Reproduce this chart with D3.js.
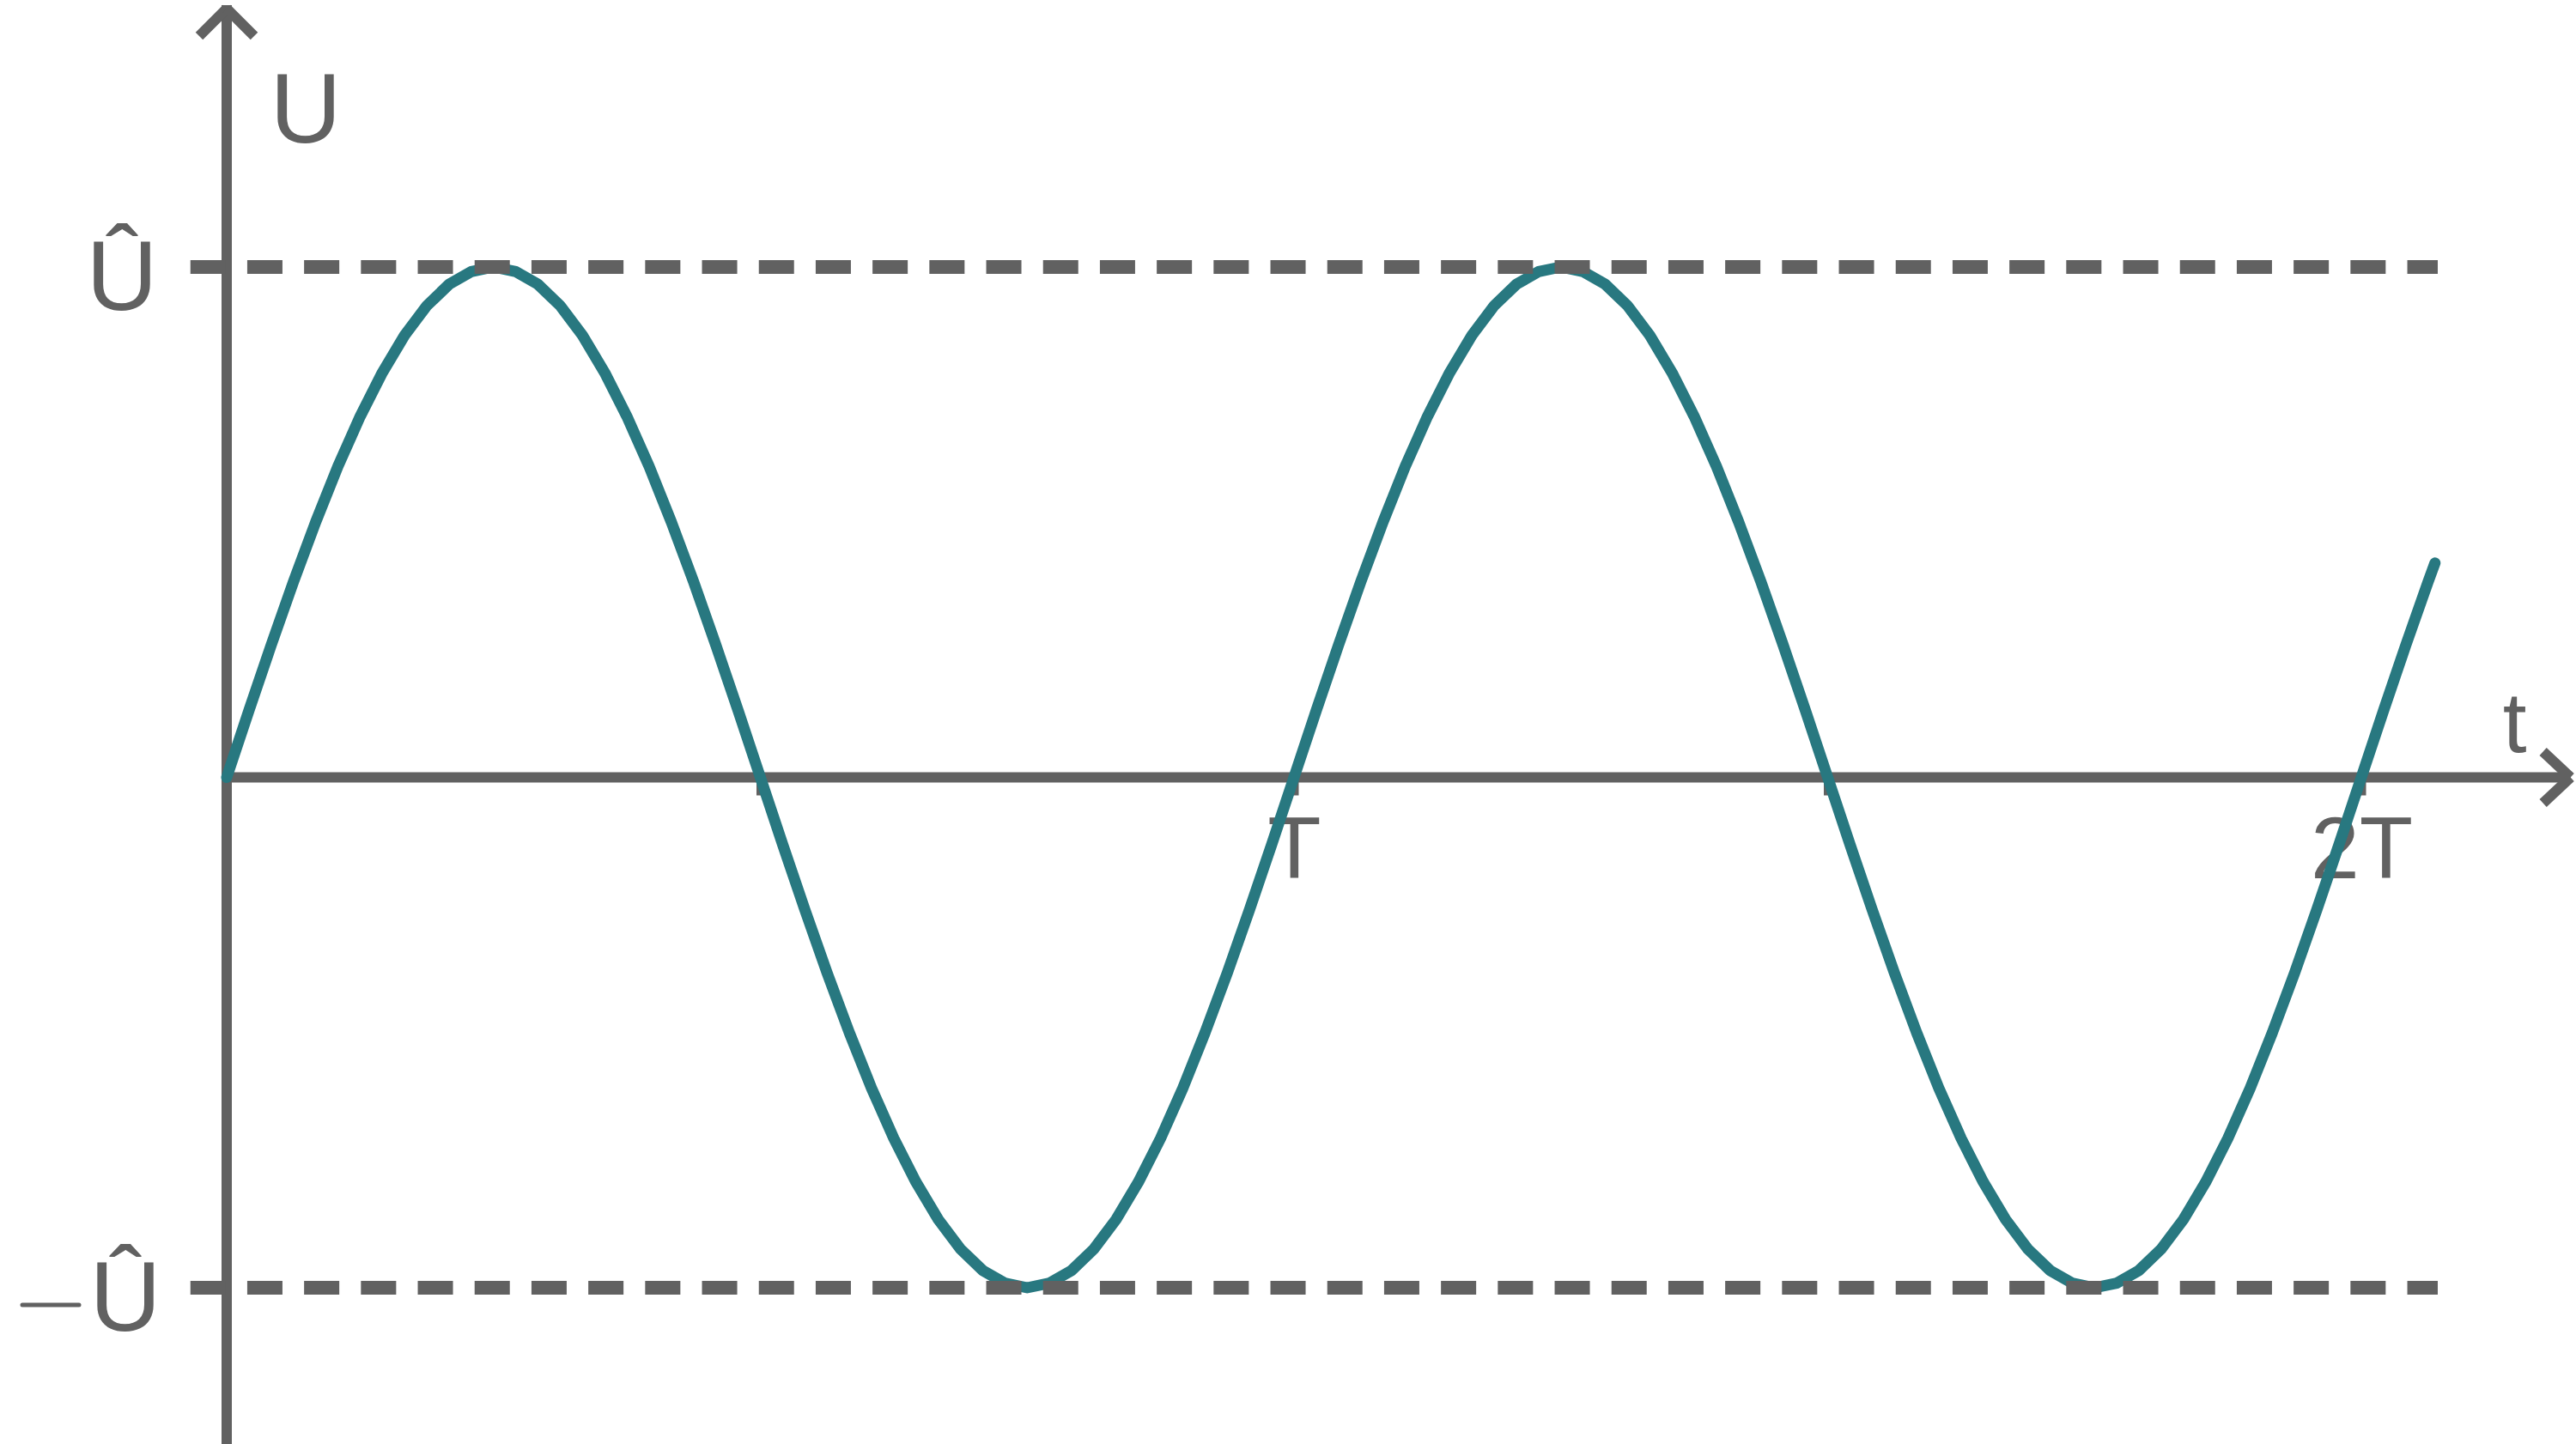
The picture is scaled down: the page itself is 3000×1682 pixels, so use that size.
<!DOCTYPE html>
<html>
<head>
<meta charset="utf-8">
<script src="https://cdn.jsdelivr.net/npm/d3@7"></script>
<style>
  body { margin: 0; background: #fff; }
  svg { display: block; }
  text { font-family: "Liberation Sans", Arial, sans-serif; fill: #616161; }
</style>
</head>
<body>
<svg id="chart"></svg>
<script>
// t in units of the period T, U in units of the peak value Û
const sampleStep = 1 / 48;
const uValues = [
  0, 0.131, 0.259, 0.383, 0.5, 0.609, 0.707, 0.793, 0.866, 0.924, 0.966, 0.991,
  1, 0.991, 0.966, 0.924, 0.866, 0.793, 0.707, 0.609, 0.5, 0.383, 0.259, 0.131,
  0, -0.131, -0.259, -0.383, -0.5, -0.609, -0.707, -0.793, -0.866, -0.924, -0.966, -0.991,
  -1, -0.991, -0.966, -0.924, -0.866, -0.793, -0.707, -0.609, -0.5, -0.383, -0.259, -0.131,
  0, 0.131, 0.259, 0.383, 0.5, 0.609, 0.707, 0.793, 0.866, 0.924, 0.966, 0.991,
  1, 0.991, 0.966, 0.924, 0.866, 0.793, 0.707, 0.609, 0.5, 0.383, 0.259, 0.131,
  0, -0.131, -0.259, -0.383, -0.5, -0.609, -0.707, -0.793, -0.866, -0.924, -0.966, -0.991,
  -1, -0.991, -0.966, -0.924, -0.866, -0.793, -0.707, -0.609, -0.5, -0.383, -0.259, -0.131,
  0, 0.131, 0.259, 0.383
];
const lastPoint = { t: 2.069, u: 0.42 };

const tickValues = [0.5, 1, 1.5, 2];
const tickLabels = ["", "T", "", "2T"];

const levelValues = [1, -1];
const levelLabels = ["Û", "Û"];

const W = 3000;
const H = 1682;
const GRAY = "#616161";
const TEAL = "#287880";
const FONT = '"Liberation Sans", Arial, sans-serif';

const svg = d3.select("#chart").attr("width", W).attr("height", H);

const x = d3.scaleLinear().domain([0, 1]).range([264, 1507]);
const y = d3.scaleLinear().domain([-1, 1]).range([1500, 311]);

const x0 = x(0);
const y0 = y(0);
const xEnd = x(2.196);
const yTop = y(1.513);

// axes
const axisG = svg.append("g");

axisG
  .append("g")
  .attr("transform", `translate(0,${y0})`)
  .call(
    d3
      .axisBottom(x)
      .tickValues(tickValues)
      .tickFormat((d, i) => tickLabels[i])
      .tickSize(21)
      .tickPadding(24)
  )
  .attr("font-size", 102)
  .attr("font-family", FONT)
  .call((g) => g.select(".domain").remove())
  .call((g) =>
    g.selectAll(".tick line").attr("stroke", GRAY).attr("stroke-width", 10)
  )
  .call((g) => g.selectAll(".tick text").attr("fill", GRAY));

axisG
  .append("line")
  .attr("x1", x0)
  .attr("x2", xEnd)
  .attr("y1", y0)
  .attr("y2", y0)
  .attr("stroke", GRAY)
  .attr("stroke-width", 12);

axisG
  .append("line")
  .attr("x1", x0)
  .attr("x2", x0)
  .attr("y1", H)
  .attr("y2", yTop)
  .attr("stroke", GRAY)
  .attr("stroke-width", 12);

// arrow heads, open chevrons
const arm = 32;
[
  [xEnd - arm, y0 - 30],
  [xEnd - arm, y0 + 30],
].forEach(([ax, ay]) =>
  axisG
    .append("line")
    .attr("x1", xEnd)
    .attr("y1", y0)
    .attr("x2", ax)
    .attr("y2", ay)
    .attr("stroke", GRAY)
    .attr("stroke-width", 12)
);
[
  [x0 - arm, yTop + arm],
  [x0 + arm, yTop + arm],
].forEach(([ax, ay]) =>
  axisG
    .append("line")
    .attr("x1", x0)
    .attr("y1", yTop + 4)
    .attr("x2", ax)
    .attr("y2", ay + 4)
    .attr("stroke", GRAY)
    .attr("stroke-width", 12)
);

// axis names
svg
  .append("text")
  .attr("x", x0 + 92)
  .attr("y", 166)
  .attr("text-anchor", "middle")
  .attr("font-size", 115)
  .text("U");

svg
  .append("text")
  .attr("x", xEnd - 65)
  .attr("y", y0 - 30)
  .attr("text-anchor", "middle")
  .attr("font-size", 100)
  .text("t");

// level labels Û and −Û
svg
  .selectAll("text.level")
  .data(levelValues)
  .join("text")
  .attr("class", "level")
  .attr("x", (d) => (d > 0 ? x0 - 122 : x0 - 118))
  .attr("y", (d) => y(d) + 50)
  .attr("text-anchor", "middle")
  .attr("font-size", 115)
  .text((d, i) => levelLabels[i]);

svg
  .append("line")
  .attr("x1", 26)
  .attr("x2", 92)
  .attr("y1", y(-1) + 20)
  .attr("y2", y(-1) + 20)
  .attr("stroke", GRAY)
  .attr("stroke-width", 5)
  .attr("stroke-linecap", "round");

// the voltage curve
const curve = uValues.map((u, i) => ({ t: i * sampleStep, u }));
curve.push(lastPoint);

svg
  .append("path")
  .datum(curve)
  .attr("fill", "none")
  .attr("stroke", TEAL)
  .attr("stroke-width", 13)
  .attr("stroke-linecap", "round")
  .attr("stroke-linejoin", "round")
  .attr(
    "d",
    d3
      .line()
      .x((d) => x(d.t))
      .y((d) => y(d.u))
  );

// dashed peak levels
svg
  .selectAll("line.level")
  .data(levelValues)
  .join("line")
  .attr("class", "level")
  .attr("x1", x(-0.034))
  .attr("x2", x(2.0716))
  .attr("y1", (d) => y(d))
  .attr("y2", (d) => y(d))
  .attr("stroke", GRAY)
  .attr("stroke-width", 16)
  .attr("stroke-dasharray", "41 25.2");
</script>
</body>
</html>
